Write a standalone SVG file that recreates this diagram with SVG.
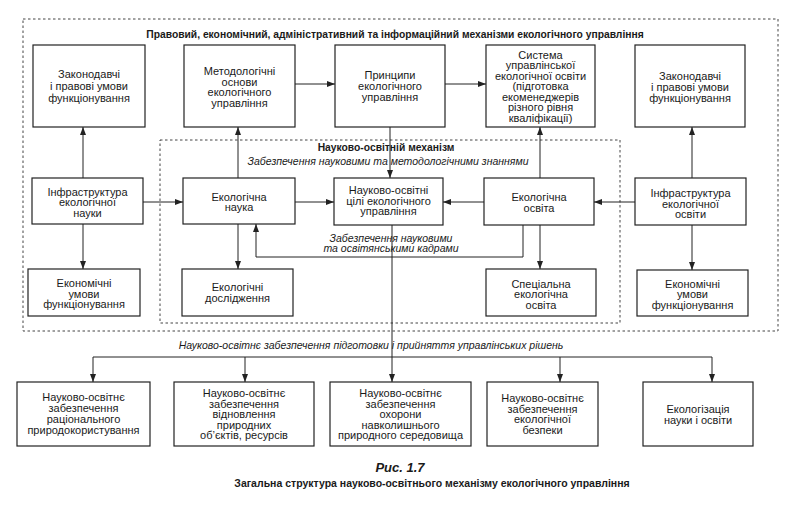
<svg xmlns="http://www.w3.org/2000/svg" width="790" height="512" viewBox="0 0 790 512">
<style>
.box{fill:#fff;stroke:#222;stroke-width:1.2}
.t{font-family:"Liberation Sans",Arial,sans-serif;font-size:11px;fill:#1a1a1a;text-anchor:middle}
.b{font-family:"Liberation Sans",Arial,sans-serif;font-size:10.3px;font-weight:bold;fill:#1a1a1a;text-anchor:middle}
.i{font-family:"Liberation Sans",Arial,sans-serif;font-size:10.5px;font-style:italic;fill:#1a1a1a;text-anchor:middle}
.dot{fill:none;stroke:#444;stroke-width:1;stroke-dasharray:2.5,2.5}
.c{fill:none;stroke:#222;stroke-width:1}
</style>
<defs>
<marker id="ah" viewBox="0 0 8 6" refX="8" refY="3" markerWidth="8" markerHeight="6" markerUnits="userSpaceOnUse" orient="auto">
<path d="M0,0 L8,3 L0,6 Z" fill="#222"/>
</marker>
</defs>
<rect width="790" height="512" fill="#fff"/>

<g id="frames">
<rect class="dot" x="23" y="19" width="755" height="312"/>
<rect class="dot" x="160" y="140" width="460" height="183"/>
<text class="b" x="395" y="38">Правовий, економічний, адміністративний та інформаційний механізми  екологічного управління</text>
<text class="b" x="386" y="151">Науково-освітній механізм</text>
<text class="i" x="388" y="165">Забезпечення науковими  та методологічними знаннями</text>
<text class="i" x="391" y="241.5">Забезпечення науковими</text>
<text class="i" x="391" y="252">та освітянськими кадрами</text>
<text class="i" x="371" y="349">Науково-освітнє забезпечення підготовки і прийняття управлінських рішень</text>
</g>

<g id="connectors">
<line class="c" x1="295" y1="84" x2="335" y2="84" marker-end="url(#ah)"/>
<line class="c" x1="445" y1="84" x2="486" y2="84" marker-end="url(#ah)"/>
<line class="c" x1="390" y1="127" x2="390" y2="178" marker-end="url(#ah)"/>
<line class="c" x1="83" y1="178" x2="83" y2="127" marker-end="url(#ah)"/>
<line class="c" x1="83" y1="224" x2="83" y2="269" marker-end="url(#ah)"/>
<line class="c" x1="143" y1="202" x2="183" y2="202" marker-end="url(#ah)"/>
<line class="c" x1="238" y1="178" x2="238" y2="127" marker-end="url(#ah)"/>
<line class="c" x1="238" y1="224" x2="238" y2="269" marker-end="url(#ah)"/>
<line class="c" x1="295" y1="202" x2="334" y2="202" marker-end="url(#ah)"/>
<line class="c" x1="484" y1="202" x2="443" y2="202" marker-end="url(#ah)"/>
<line class="c" x1="635" y1="202" x2="594" y2="202" marker-end="url(#ah)"/>
<line class="c" x1="540" y1="178" x2="540" y2="127" marker-end="url(#ah)"/>
<line class="c" x1="540" y1="225" x2="540" y2="269" marker-end="url(#ah)"/>
<line class="c" x1="692" y1="178" x2="692" y2="127" marker-end="url(#ah)"/>
<line class="c" x1="692" y1="225" x2="692" y2="270" marker-end="url(#ah)"/>
<polyline class="c" points="523,225 523,257 256,257 256,224" marker-end="url(#ah)"/>
<line class="c" x1="392" y1="225" x2="392" y2="382" marker-end="url(#ah)"/>
<line class="c" x1="93" y1="357" x2="712" y2="357"/>
<line class="c" x1="93" y1="357" x2="93" y2="382" marker-end="url(#ah)"/>
<line class="c" x1="245" y1="357" x2="245" y2="382" marker-end="url(#ah)"/>
<line class="c" x1="560" y1="357" x2="560" y2="382" marker-end="url(#ah)"/>
<line class="c" x1="712" y1="357" x2="712" y2="382" marker-end="url(#ah)"/>
</g>

<g id="n-zak-left">
<rect class="box" x="33" y="45" width="112" height="82"/>
<text class="t" x="89" y="78">Законодавчі</text>
<text class="t" x="89" y="90">і правові умови</text>
<text class="t" x="89" y="102">функціонування</text>
</g>
<g id="n-metod">
<rect class="box" x="184" y="45" width="111" height="82"/>
<text class="t" x="239.5" y="75">Методологічні</text>
<text class="t" x="239.5" y="85.5">основи</text>
<text class="t" x="239.5" y="96">екологічного</text>
<text class="t" x="239.5" y="106.5">управління</text>
</g>
<g id="n-pryntsypy">
<rect class="box" x="335" y="45" width="110" height="82"/>
<text class="t" x="390" y="79">Принципи</text>
<text class="t" x="390" y="90">екологічного</text>
<text class="t" x="390" y="101">управління</text>
</g>
<g id="n-systema">
<rect class="box" x="486" y="45" width="109" height="82"/>
<text class="t" x="540.5" y="58.5">Система</text>
<text class="t" x="540.5" y="69">управлінської</text>
<text class="t" x="540.5" y="79.5">екологічної освіти</text>
<text class="t" x="540.5" y="90">(підготовка</text>
<text class="t" x="540.5" y="100.5">екоменеджерів</text>
<text class="t" x="540.5" y="111">різного рівня</text>
<text class="t" x="540.5" y="121.5">кваліфікації)</text>
</g>
<g id="n-zak-right">
<rect class="box" x="635" y="45" width="110" height="82"/>
<text class="t" x="690" y="80">Законодавчі</text>
<text class="t" x="690" y="91">і правові умови</text>
<text class="t" x="690" y="102">функціонування</text>
</g>

<g id="n-infra-nauky">
<rect class="box" x="32" y="178" width="111" height="46"/>
<text class="t" x="87.5" y="195.5">Інфраструктура</text>
<text class="t" x="87.5" y="206">екологічної</text>
<text class="t" x="87.5" y="216.5">науки</text>
</g>
<g id="n-ek-nauka">
<rect class="box" x="183" y="178" width="112" height="46"/>
<text class="t" x="239" y="200.5">Екологічна</text>
<text class="t" x="239" y="211">наука</text>
</g>
<g id="n-tsili">
<rect class="box" x="334" y="178" width="109" height="47"/>
<text class="t" x="388.5" y="194">Науково-освітні</text>
<text class="t" x="388.5" y="204.5">цілі екологічного</text>
<text class="t" x="388.5" y="215">управління</text>
</g>
<g id="n-ek-osvita">
<rect class="box" x="484" y="178" width="110" height="47"/>
<text class="t" x="539" y="201">Екологічна</text>
<text class="t" x="539" y="212">освіта</text>
</g>
<g id="n-infra-osvity">
<rect class="box" x="635" y="178" width="111" height="47"/>
<text class="t" x="690.5" y="197">Інфраструктура</text>
<text class="t" x="690.5" y="207.5">екологічної</text>
<text class="t" x="690.5" y="218">освіти</text>
</g>

<g id="n-ekon-left">
<rect class="box" x="28" y="269" width="112" height="47"/>
<text class="t" x="84" y="287">Економічні</text>
<text class="t" x="84" y="297.5">умови</text>
<text class="t" x="84" y="308">функціонування</text>
</g>
<g id="n-doslidzhennia">
<rect class="box" x="182" y="269" width="111" height="47"/>
<text class="t" x="237.5" y="291">Екологічні</text>
<text class="t" x="237.5" y="302">дослідження</text>
</g>
<g id="n-spetsialna">
<rect class="box" x="486" y="269" width="110" height="47"/>
<text class="t" x="541" y="287.5">Спеціальна</text>
<text class="t" x="541" y="298">екологічна</text>
<text class="t" x="541" y="308.5">освіта</text>
</g>
<g id="n-ekon-right">
<rect class="box" x="637" y="270" width="111" height="46"/>
<text class="t" x="692.5" y="287.5">Економічні</text>
<text class="t" x="692.5" y="298">умови</text>
<text class="t" x="692.5" y="308.5">функціонування</text>
</g>

<g id="n-b1">
<rect class="box" x="17" y="382" width="133" height="64"/>
<text class="t" x="83.5" y="401">Науково-освітнє</text>
<text class="t" x="83.5" y="412">забезпечення</text>
<text class="t" x="83.5" y="423">раціонального</text>
<text class="t" x="83.5" y="434">природокористування</text>
</g>
<g id="n-b2">
<rect class="box" x="174" y="382" width="140" height="64"/>
<text class="t" x="244" y="397">Науково-освітнє</text>
<text class="t" x="244" y="407.5">забезпечення</text>
<text class="t" x="244" y="418">відновлення</text>
<text class="t" x="244" y="428.5">природних</text>
<text class="t" x="244" y="439">об’єктів, ресурсів</text>
</g>
<g id="n-b3">
<rect class="box" x="330" y="382" width="141" height="64"/>
<text class="t" x="400.5" y="397">Науково-освітнє</text>
<text class="t" x="400.5" y="407.5">забезпечення</text>
<text class="t" x="400.5" y="418">охорони</text>
<text class="t" x="400.5" y="428.5">навколишнього</text>
<text class="t" x="400.5" y="439">природного середовища</text>
</g>
<g id="n-b4">
<rect class="box" x="487" y="382" width="111" height="64"/>
<text class="t" x="542.5" y="402">Науково-освітнє</text>
<text class="t" x="542.5" y="412.5">забезпечення</text>
<text class="t" x="542.5" y="423">екологічної</text>
<text class="t" x="542.5" y="433.5">безпеки</text>
</g>
<g id="n-b5">
<rect class="box" x="643" y="382" width="110" height="64"/>
<text class="t" x="698" y="413">Екологізація</text>
<text class="t" x="698" y="424">науки і  освіти</text>
</g>

<g id="caption">
<text x="400" y="472" font-family="Liberation Sans,Arial,sans-serif" font-size="13" font-weight="bold" font-style="italic" text-anchor="middle" fill="#1a1a1a">Рис. 1.7</text>
<text x="432" y="487" font-family="Liberation Sans,Arial,sans-serif" font-size="10.5" font-weight="bold" text-anchor="middle" fill="#1a1a1a">Загальна структура науково-освітнього механізму екологічного управління</text>
</g>
</svg>
